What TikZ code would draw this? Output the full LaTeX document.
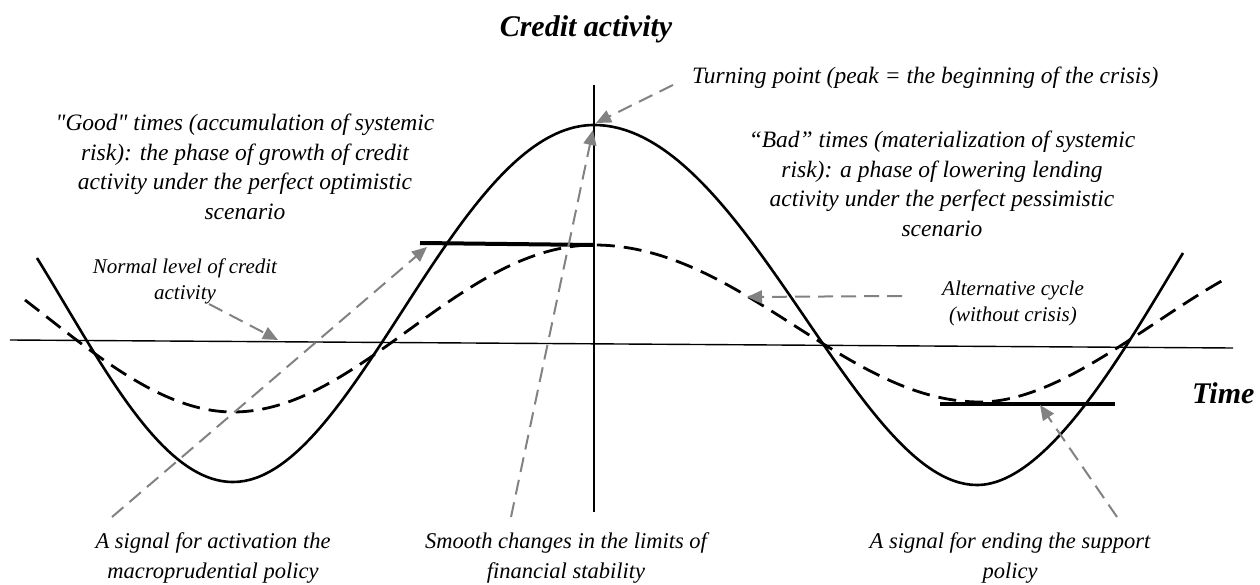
\documentclass[tikz,border=0pt]{standalone}
\usepackage{fontspec}
\setmainfont{Liberation Serif}[Ligatures=TeXOff]
\usetikzlibrary{arrows.meta}
\definecolor{arrowgray}{RGB}{130,130,130}
\begin{document}
\begin{tikzpicture}[x=1pt,y=-1pt,
  curve/.style={line width=2.6pt},
  altcurve/.style={line width=2.8pt, dash pattern=on 18pt off 9pt},
  axisline/.style={line width=1.4pt},
  signalbar/.style={line width=4pt},
  pointer/.style={draw=arrowgray, line width=2pt, dash pattern=on 15pt off 8pt,
    -{Triangle[length=15pt,width=13pt]}},
  biglbl/.style={font=\fontsize{23.5}{29.5}\selectfont\itshape, align=center, inner sep=0pt},
  smalllbl/.style={font=\fontsize{21}{25.5}\selectfont\itshape, align=center, inner sep=0pt},
  botlbl/.style={font=\fontsize{22.5}{30}\selectfont\itshape, align=center, inner sep=0pt},
  headlbl/.style={font=\fontsize{30}{34}\selectfont\bfseries\itshape, inner sep=0pt}
]
\useasboundingbox (0,0) rectangle (1260,585);

% axes
\coordinate (hx0) at (10,340);
\coordinate (hx1) at (1233,348);
\coordinate (vy0) at (594,85);
\coordinate (vy1) at (594,512);
\draw[axisline] (hx0) -- (hx1);
\draw[axisline] (vy0) -- (vy1);

% curves
\draw[curve] (37,258) .. controls (100,360) and (160,482) .. (233,482)
  .. controls (355,482) and (455,125) .. (594,125)
  .. controls (745,125) and (855,485) .. (977,485)
  .. controls (1050,485) and (1130,340) .. (1183,253);
\draw[altcurve] (25,300) .. controls (90,350) and (160,412) .. (233,412)
  .. controls (360,412) and (460,245) .. (594,245)
  .. controls (740,245) and (845,402) .. (980,402)
  .. controls (1060,402) and (1150,320) .. (1227,278);

% signal bars
\coordinate (barL0) at (420,243);
\coordinate (barL1) at (594,245);
\coordinate (barR0) at (940,404);
\coordinate (barR1) at (1115,404);
\draw[signalbar] (barL0) -- (barL1);
\draw[signalbar] (barR0) -- (barR1);

% labels
\node[headlbl, anchor=base] (title) at (586,37) {Credit activity};
\node[headlbl, anchor=base west] (timelbl) at (1192,403) {Time};
\node[font=\fontsize{23.5}{28}\selectfont\itshape, inner sep=0pt, anchor=base west] (turn) at (692,84)
  {Turning point (peak = the beginning of the crisis)};
\node[biglbl, anchor=north] (good) at (245,114)
  {"Good" times (accumulation of systemic\\risk): the phase of growth of credit\\activity under the perfect optimistic\\scenario};
\node[biglbl, anchor=north] (bad) at (942,131)
  {“Bad” times (materialization of systemic\\risk): a phase of lowering lending\\activity under the perfect pessimistic\\scenario};
\node[smalllbl, anchor=north] (normal) at (185,259) {Normal level of credit\\activity};
\node[smalllbl, anchor=north] (alt) at (1013,281) {Alternative cycle\\(without crisis)};
\node[botlbl, anchor=north] (sigA) at (213,532) {A signal for activation the\\macroprudential policy};
\node[botlbl, anchor=north] (smooth) at (566,532) {Smooth changes in the limits of\\financial stability};
\node[botlbl, anchor=north] (sigB) at (1010,532) {A signal for ending the support\\policy};

% pointer ends
\coordinate (normalS) at (209,304);
\coordinate (normalT) at (278,340);
\coordinate (sigAS) at (112,517);
\coordinate (sigAT) at (427,247);
\coordinate (smoothS) at (511,517);
\coordinate (smoothT) at (593,130);
\coordinate (turnS) at (673,85);
\coordinate (turnT) at (596,123);
\coordinate (altS) at (902,296);
\coordinate (altT) at (747,297);
\coordinate (sigBS) at (1117,517);
\coordinate (sigBT) at (1040,405);

\draw[pointer] (normalS) -- (normalT);
\draw[pointer] (sigAS) -- (sigAT);
\draw[pointer] (smoothS) -- (smoothT);
\draw[pointer] (turnS) -- (turnT);
\draw[pointer] (altS) -- (altT);
\draw[pointer] (sigBS) -- (sigBT);
\end{tikzpicture}
\end{document}
